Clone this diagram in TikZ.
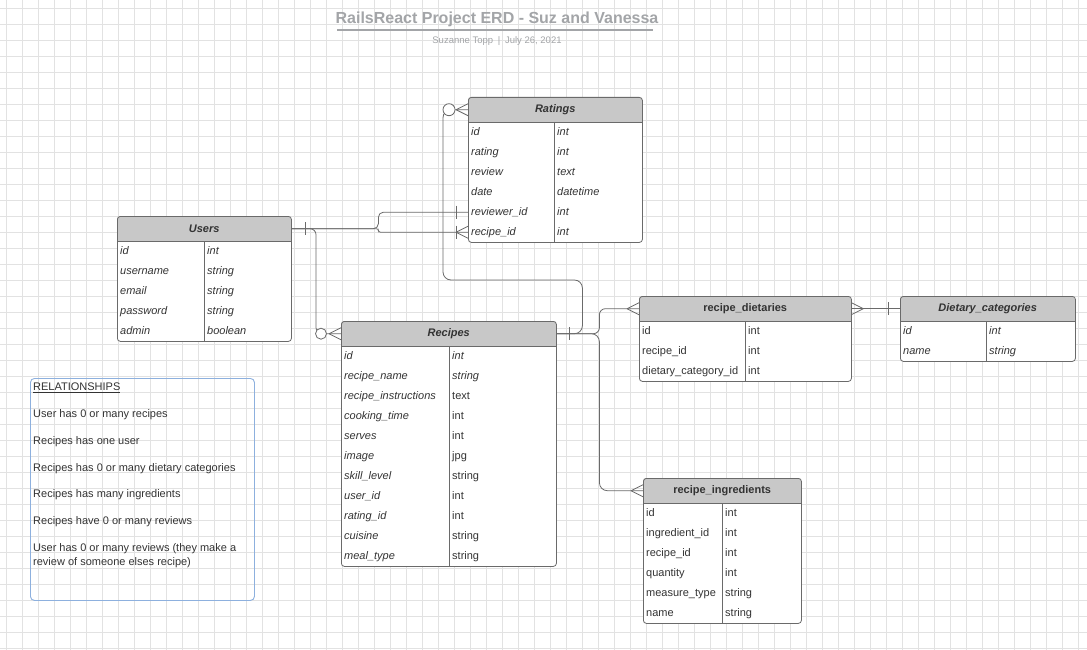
\documentclass[tikz,border=0pt]{standalone}
\usepackage{fontspec}
\setmainfont{Liberation Sans}
\usetikzlibrary{calc}
\definecolor{hdrgray}{HTML}{C8C8C8}
\definecolor{txt}{HTML}{333333}
\definecolor{lineg}{HTML}{6A6A6A}
\definecolor{gridc}{HTML}{E2E2E2}
\definecolor{titleg}{HTML}{A3A5A8}
\definecolor{relblue}{HTML}{8DB0DE}
\tikzset{
 tblhead/.style={inner sep=0pt, minimum height=25pt, text=txt, font=\fontsize{11}{13}\selectfont\bfseries},
 tblbox/.style={draw=lineg, line width=0.8pt, rounded corners=3pt, inner sep=0pt},
 tblline/.style={draw=lineg, line width=0.8pt},
 fieldcell/.style={inner xsep=3pt, inner ysep=0pt, minimum height=20pt, text height=9pt, text depth=1.5pt, text=txt, font=\fontsize{11}{13}\selectfont, align=left},
 conn/.style={draw=lineg, line width=0.8pt},
 crowline/.style={draw=lineg, line width=0.8pt},
 zcircle/.style={draw=lineg, fill=white, line width=0.8pt},
 reltext/.style={anchor=west, inner sep=0pt, text height=8pt, text depth=2.5pt, text=txt, font=\fontsize{11}{14}\selectfont, align=left},
 gridline/.style={draw=gridc, line width=0.6pt},
}
% #1 name, #2 x1, #3 x2, #4 xdiv, #5 ytop, #6 title, #7 nrows, #8 rows
\newcommand\erdtab[8]{%
 \pgfmathsetmacro\erdyh{#5+25}%
 \pgfmathsetmacro\erdyb{#5+25+20*#7}%
 \pgfmathsetmacro\erdtw{#3-#2}%
 \pgfmathsetmacro\erdth{\erdyb-#5}%
 \pgfmathsetmacro\erdcw{#4-#2-6}%
 \pgfmathsetmacro\erddw{#3-#4-6}%
 \begin{scope}
  \clip[rounded corners=3pt] (#2,#5) rectangle (#3,\erdyb);
  \fill[white] (#2,#5) rectangle (#3,\erdyb);
  \fill[hdrgray] (#2,#5) rectangle (#3,\erdyh);
 \end{scope}
 \node[tblhead, minimum width=\erdtw pt, anchor=north west] (#1h) at (#2,#5) {#6};
 \draw[tblline] (#2,\erdyh) -- (#3,\erdyh);
 \draw[tblline] (#4,\erdyh) -- (#4,\erdyb);
 \node[tblbox, minimum width=\erdtw pt, minimum height=\erdth pt, anchor=north west] (#1) at (#2,#5) {};
 \foreach \nm/\ty/\ns/\ts [count=\i] in {#8} {
   \node[fieldcell, text width=\erdcw pt, anchor=north west] (#1-\i) at (#2,{#5+25+20*(\i-1)}) {\ns\nm};
   \node[fieldcell, text width=\erddw pt, anchor=north west] (#1-\i t) at (#4,{#5+25+20*(\i-1)}) {\ts\ty};
 }
}
% crow's foot: #1 anchor on table edge, #2 = 1 if table lies to the right of the apex, -1 if to the left
\newcommand\crowin[2]{%
 \draw[crowline] ($(#1)+(-12*#2,0)$) -- ($(#1)+(0,6)$) ($(#1)+(-12*#2,0)$) -- ($(#1)+(0,-6)$);}
\newcommand\erdtick[2]{%
 \draw[crowline] ($(#1)+(#2,-6.5)$) -- ($(#1)+(#2,6.5)$);}
\begin{document}
\begin{tikzpicture}[x=1pt,y=-1pt]
\useasboundingbox (0,0) rectangle (1087,650);
\fill[white] (0,0) rectangle (1087,650);
% grid
\foreach \gx in {0,16,...,1087} { \draw[gridline] (\gx+6,0) -- (\gx+6,650); }
\foreach \gy in {0,16,...,650} { \draw[gridline] (0,\gy+8) -- (1087,\gy+8); }

% title
\node[font=\fontsize{16}{19}\selectfont\bfseries, text=titleg, inner sep=0pt] (title) at (497,19) {RailsReact Project ERD - Suz and Vanessa};
\draw[draw=titleg, line width=1.6pt] (337,30) -- (653,30);
\node[font=\fontsize{9.5}{11}\selectfont, text=titleg, inner sep=0pt] (subtitle) at (497,41) {Suzanne Topp\enspace|\enspace July 26, 2021};

% tables
\erdtab{ratings}{468}{642}{554}{97}{\itshape Ratings}{6}{id/int/\itshape/\itshape, rating/int/\itshape/\itshape, review/text/\itshape/\itshape, date/datetime/\itshape/\itshape, reviewer\_id/int/\itshape/\itshape, recipe\_id/int/\itshape/\itshape}
\erdtab{users}{117}{291}{204}{216}{\itshape Users}{5}{id/int/\itshape/\itshape, username/string/\itshape/\itshape, email/string/\itshape/\itshape, password/string/\itshape/\itshape, admin/boolean/\itshape/\itshape}
\erdtab{recipes}{341}{556}{449}{321}{\itshape Recipes}{11}{id/int/\itshape/\itshape, recipe\_name/string/\itshape/\itshape, recipe\_instructions/text/\itshape/\upshape, cooking\_time/int/\itshape/\upshape, serves/int/\itshape/\upshape, image/jpg/\itshape/\upshape, skill\_level/string/\itshape/\upshape, user\_id/int/\itshape/\upshape, rating\_id/int/\itshape/\upshape, cuisine/string/\itshape/\upshape, meal\_type/string/\itshape/\upshape}
\erdtab{rd}{639}{851}{745}{296}{recipe\_dietaries}{3}{id/int/\upshape/\upshape, recipe\_id/int/\upshape/\upshape, dietary\_category\_id/int/\upshape/\upshape}
\erdtab{dc}{900}{1075}{986}{296}{\itshape Dietary\_categories}{2}{id/int/\itshape/\itshape, name/string/\itshape/\itshape}
\erdtab{ri}{643}{801}{722}{478}{recipe\_ingredients}{6}{id/int/\upshape/\upshape, ingredient\_id/int/\upshape/\upshape, recipe\_id/int/\upshape/\upshape, quantity/int/\upshape/\upshape, measure\_type/string/\upshape/\upshape, name/string/\upshape/\upshape}

% connectors
% Users -> Recipes (one to zero-or-many)
\draw[conn, rounded corners=6pt] (usersh.east) -| ($(recipesh.west)+(-25,0)$) -- (recipesh.west);
\erdtick{usersh.east}{14}
\crowin{recipesh.west}{1}
\draw[zcircle] ($(recipesh.west)+(-20,0)$) circle (5.5pt);

% Users -> Ratings reviewer_id / recipe_id
\draw[conn, rounded corners=5pt] (usersh.east) -- ($(usersh.east)+(87,0)$) |- (ratings-5.west);
\draw[conn, rounded corners=2pt] (usersh.east) -- ($(usersh.east)+(87,0)$) |- (ratings-6.west);
\erdtick{ratings-5.west}{-12}
\erdtick{ratings-6.west}{-12}
\crowin{ratings-6.west}{1}

% Ratings -> Recipes
\coordinate (rrbend) at (443,280);
\draw[conn, rounded corners=8pt] (ratingsh.west) -| (rrbend) -| ($(recipesh.east)+(26,0)$) -- (recipesh.east);
\crowin{ratingsh.west}{1}
\draw[zcircle] ($(ratingsh.west)+(-19,0)$) circle (6pt);
\erdtick{recipesh.east}{13}

% Recipes -> recipe_dietaries / recipe_ingredients
\draw[conn, rounded corners=6pt] (recipesh.east) -- ($(recipesh.east)+(43,0)$) |- (rdh.west);
\draw[conn, rounded corners=8pt] (recipesh.east) -- ($(recipesh.east)+(43,0)$) |- (rih.west);
\crowin{rdh.west}{1}
\crowin{rih.west}{1}

% recipe_dietaries -> Dietary_categories
\draw[conn] (rdh.east) -- (dch.west);
\crowin{rdh.east}{-1}
\erdtick{dch.west}{-12}

% relationships box
\node[draw=relblue, line width=0.9pt, rounded corners=4pt, minimum width=224pt, minimum height=222pt, anchor=north west, inner sep=0pt] (relbox) at (30,378) {};
\node[reltext] (rel0) at (33,388) {\underline{RELATIONSHIPS}};
\node[reltext] (rel1) at (33,415) {User has 0 or many recipes};
\node[reltext] (rel2) at (33,442) {Recipes has one user};
\node[reltext] (rel3) at (33,469) {Recipes has 0 or many dietary categories};
\node[reltext] (rel4) at (33,495) {Recipes has many ingredients};
\node[reltext] (rel5) at (33,522) {Recipes have 0 or many reviews};
\node[reltext, text height=, text depth=] (rel6) at (33,556) {User has 0 or many reviews (they make a\\review of someone elses recipe)};
\end{tikzpicture}
\end{document}
